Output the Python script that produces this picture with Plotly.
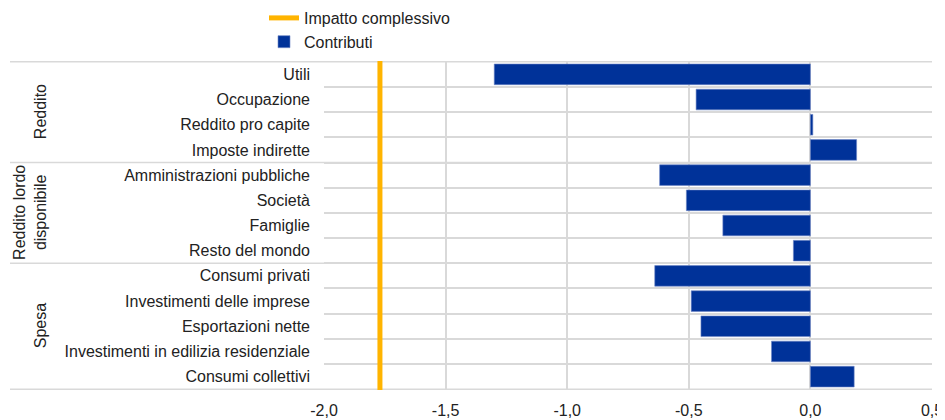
import plotly.graph_objects as go

categories = [
    "Utili", "Occupazione", "Reddito pro capite", "Imposte indirette",
    "Amministrazioni pubbliche", "Società", "Famiglie", "Resto del mondo",
    "Consumi privati", "Investimenti delle imprese", "Esportazioni nette",
    "Investimenti in edilizia residenziale", "Consumi collettivi",
]
contributi = [-1.30, -0.47, 0.01, 0.19, -0.62, -0.51, -0.36, -0.07,
              -0.64, -0.49, -0.45, -0.16, 0.18]
impatto_complessivo = -1.77

groups = ["Reddito", "Reddito lordo<br>disponibile", "Spesa"]
group_sizes = [4, 4, 5]

x_ticks = [-2.0, -1.5, -1.0, -0.5, 0.0, 0.5]
x_ticklabels = ["-2,0", "-1,5", "-1,0", "-0,5", "0,0", "0,5"]

BLUE = "#003299"
ORANGE = "#FFB400"
GRID = "#d9d9d9"
FONT_SIZE = 16

# the page body adds an 8px margin, so the figure is sized to fit the window
OFF = 8
W, H = 945 - OFF, 420 - OFF
L, T = 324 - OFF, 61 - OFF
R = W - (932 - OFF)
B = H - (390 - OFF)
plot_w = W - L - R
plot_h = H - T - B


def px_x(page_x):
    return (page_x - OFF - L) / plot_w


fig = go.Figure()

# overall impact, vertical line across the whole plot (on a hidden 0..1 axis)
fig.add_trace(go.Scatter(
    x=[impatto_complessivo, impatto_complessivo], y=[0, 1],
    mode="lines", line=dict(color=ORANGE, width=5),
    name="Impatto complessivo", yaxis="y2", hoverinfo="skip",
))

fig.add_trace(go.Bar(
    x=contributi, y=categories, orientation="h",
    marker=dict(color=BLUE, line=dict(color="#6f86c6", width=0.6)),
    width=0.82, name="Contributi",
))

# group labels on the left
start = 0
for g, size in zip(groups, group_sizes):
    mid = start + (size - 1) / 2
    fig.add_annotation(
        x=px_x(40) if "<br>" not in g else px_x(30),
        xref="paper", xanchor="center", y=mid, yref="y", yanchor="middle",
        text=g, textangle=-90, showarrow=False,
        font=dict(size=FONT_SIZE, color="#222"), align="center",
    )
    start += size

# separators between groups, running out to the group labels
bounds = [-0.5]
acc = 0
for size in group_sizes:
    acc += size
    bounds.append(acc - 0.5)
for b in bounds:
    fig.add_shape(
        type="line", xref="paper", yref="y",
        x0=px_x(10), x1=1, y0=b, y1=b,
        line=dict(color=GRID, width=1.5), layer="below",
    )

fig.update_layout(
    width=W, height=H,
    margin=dict(l=L, r=R, t=T, b=B, autoexpand=False),
    plot_bgcolor="white", paper_bgcolor="white",
    font=dict(family="Liberation Sans, Arial, sans-serif", size=FONT_SIZE, color="#222"),
    showlegend=True,
    legend=dict(
        x=px_x(264), xanchor="left",
        y=1 + (T + 7) / plot_h, yanchor="top",
        bgcolor="rgba(0,0,0,0)", font=dict(size=FONT_SIZE),
        traceorder="normal",
    ),
    xaxis=dict(
        range=[-2.0, 0.5], tickvals=x_ticks, ticktext=x_ticklabels,
        showgrid=True, gridcolor=GRID, gridwidth=1.5,
        zeroline=False, showline=False, automargin=False,
        ticks="outside", ticklen=6, tickcolor="rgba(0,0,0,0)",
    ),
    yaxis=dict(
        autorange="reversed", tickson="boundaries",
        showgrid=True, gridcolor=GRID, gridwidth=1.5,
        ticks="", ticklabelstandoff=13, showline=False, automargin=False,
    ),
    yaxis2=dict(
        overlaying="y", range=[0, 1], visible=False,
    ),
)

fig.write_html("out.html")
